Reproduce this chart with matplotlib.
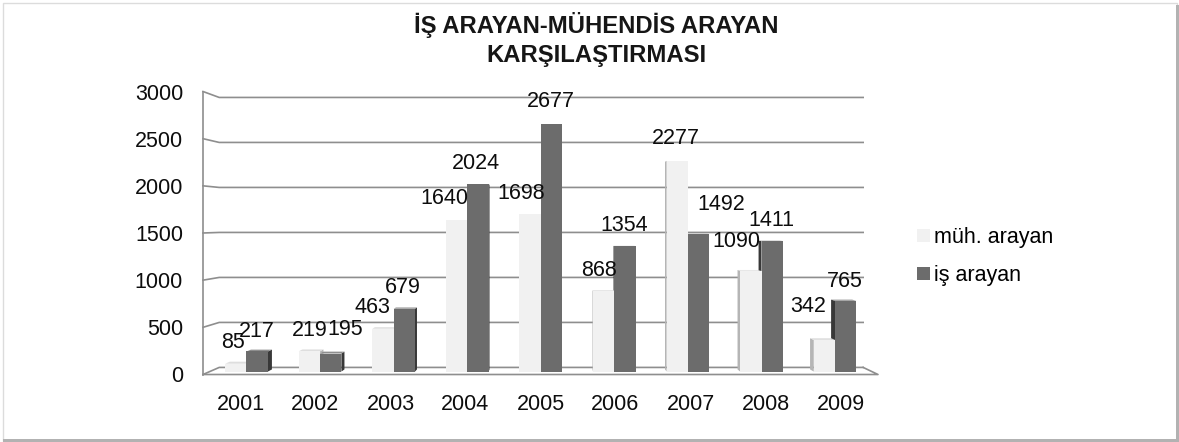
import matplotlib

matplotlib.use("Agg")
import matplotlib.pyplot as plt
from matplotlib.patches import Polygon, Rectangle

plt.rcParams["font.family"] = ["Liberation Sans", "DejaVu Sans"]

# --- veri ---
yillar = ["2001", "2002", "2003", "2004", "2005", "2006", "2007", "2008", "2009"]
muh_arayan = [85, 219, 463, 1640, 1698, 868, 2277, 1090, 342]
is_arayan = [217, 195, 679, 2024, 2677, 1354, 1492, 1411, 765]
y_ticks = [0, 500, 1000, 1500, 2000, 2500, 3000]

# etiket kaydirmalari (piksel): Excel 3B grafikteki yerlesim
NUDGE_MUH = [(-3, 0), (0, 0), (-11, 0), (-12, 0), (-9, 0), (-5, 0), (-1, 1), (-14, 8), (-16, 12)]
NUDGE_IS = [(0, -1), (14, 3), (-1, 0), (-2, 0), (-1, 1), (-1, 0), (23, 8), (-1, 0), (-1, -2)]

# perspektif: kacis noktasi ve derinlik olcekleri
VX, VY = 4.2, 1630
S1, S2, SW = 0.981, 0.967, 0.954
W = 0.29

ACIK, ACIK_YAN, ACIK_UST = "#f1f1f1", "#b5b5b5", "#dedede"
KOYU, KOYU_YAN, KOYU_UST = "#6c6c6c", "#383838", "#8e8e8e"
IZGARA = "#8e8e8e"
YAZI = "#0d0d0d"
FS = 15.5


def proj(x, v, s):
    return VX + (x - VX) * s, VY + (v - VY) * s


fig = plt.figure(figsize=(11.79, 4.42), dpi=100)
ax = fig.add_axes([203 / 1179, (442 - 374.5) / 442, 675 / 1179, 283 / 442])
ax.set_xlim(-0.5, 8.5)
ax.set_ylim(0, 3000)
ax.patch.set_visible(False)
for sp in ax.spines.values():
    sp.set_visible(False)

# arka duvar izgara cizgileri + sol duvar
for v in y_ticks:
    bx0, by = proj(-0.5, v, SW)
    bx1, _ = proj(8.5, v, SW)
    ax.plot([-0.5, bx0, bx1], [v, by, by], color=IZGARA, lw=1.2, zorder=1,
            clip_on=False, solid_joinstyle="miter")
fx1, fy1 = proj(8.5, 0, SW)
ax.plot([-0.5, 8.5, fx1], [0, 0, fy1], color=IZGARA, lw=1.2, zorder=1, clip_on=False)
ax.plot([-0.5, -0.5], [0, 3000], color=IZGARA, lw=1.2, zorder=1, clip_on=False)

# cubuklar
seriler = [
    (muh_arayan, -0.5, ACIK, ACIK_YAN, ACIK_UST, "müh. arayan", NUDGE_MUH),
    (is_arayan, 0.5, KOYU, KOYU_YAN, KOYU_UST, "iş arayan", NUDGE_IS),
]
tutamaklar = []
for degerler, kay, renk, yan, ust, ad, nudge in seriler:
    merkez = [i + kay * W for i in range(len(degerler))]
    xs = [proj(c, 0, S1)[0] for c in merkez]
    alt = proj(0, 0, S1)[1]
    boy = [proj(0, v, S1)[1] - alt for v in degerler]
    cubuk = ax.bar(xs, boy, width=W * S1, bottom=alt, color=renk, lw=0, label=ad,
                   clip_on=False)
    tutamaklar.append(cubuk)
    for c, v, p, (dx, dy) in zip(merkez, degerler, cubuk.patches, nudge):
        z = 2 + (5 - abs(c - VX)) * 0.5
        p.set_zorder(z + 0.2)
        xl, xr = c - W / 2, c + W / 2
        kenar = xr if xr < VX else (xl if xl > VX else None)
        if kenar is not None:
            yuz = [proj(kenar, 0, S1), proj(kenar, v, S1), proj(kenar, v, S2), proj(kenar, 0, S2)]
            ax.add_patch(Polygon(yuz, closed=True, fc=yan, lw=0, zorder=z, clip_on=False))
        if v < VY:
            yuz = [proj(xl, v, S1), proj(xr, v, S1), proj(xr, v, S2), proj(xl, v, S2)]
            ax.add_patch(Polygon(yuz, closed=True, fc=ust, lw=0, zorder=z, clip_on=False))
        tx, ty = proj(c, v, S1)
        ax.annotate(str(v), xy=(tx, ty), xytext=(dx * 0.72, (21 + dy) * 0.72),
                    textcoords="offset points", ha="center", va="center",
                    fontsize=FS, color=YAZI, zorder=20)

ax.set_xticks(range(len(yillar)), yillar)
ax.set_yticks(y_ticks)
ax.tick_params(length=0, labelsize=FS, labelcolor=YAZI)
ax.tick_params(axis="y", pad=14.4)
ax.tick_params(axis="x", pad=14.0)

# baslik
fig.text(596 / 1179, 1 - 33 / 442, "İŞ ARAYAN-MÜHENDİS ARAYAN", ha="center",
         va="baseline", fontsize=17.2, fontweight="bold", color="#161616")
fig.text(596 / 1179, 1 - 62 / 442, "KARŞILAŞTIRMASI", ha="center",
         va="baseline", fontsize=17.2, fontweight="bold", color="#161616")

# gosterge
fig.legend(handles=tutamaklar, labels=["müh. arayan", "iş arayan"], loc="upper left",
           bbox_to_anchor=(917 / 1179, 1 - 227 / 442), frameon=False, fontsize=FS,
           handlelength=0.6, handleheight=0.6, handletextpad=0.2, borderpad=0,
           labelspacing=0.8, borderaxespad=0)

# cerceve
fig.add_artist(Rectangle((3 / 1179, 1 / 442), 1174 / 1179, 438 / 442, transform=fig.transFigure,
                         fill=False, ec="#dcdcdc", lw=1))
fig.add_artist(Rectangle((1176 / 1179, 0), 3 / 1179, 437 / 442, transform=fig.transFigure,
                         fc="#b2b2b2", lw=0))
fig.add_artist(Rectangle((3 / 1179, 0), 1176 / 1179, 3.5 / 442, transform=fig.transFigure,
                         fc="#b2b2b2", lw=0))

fig.savefig("out.png", dpi=100)
